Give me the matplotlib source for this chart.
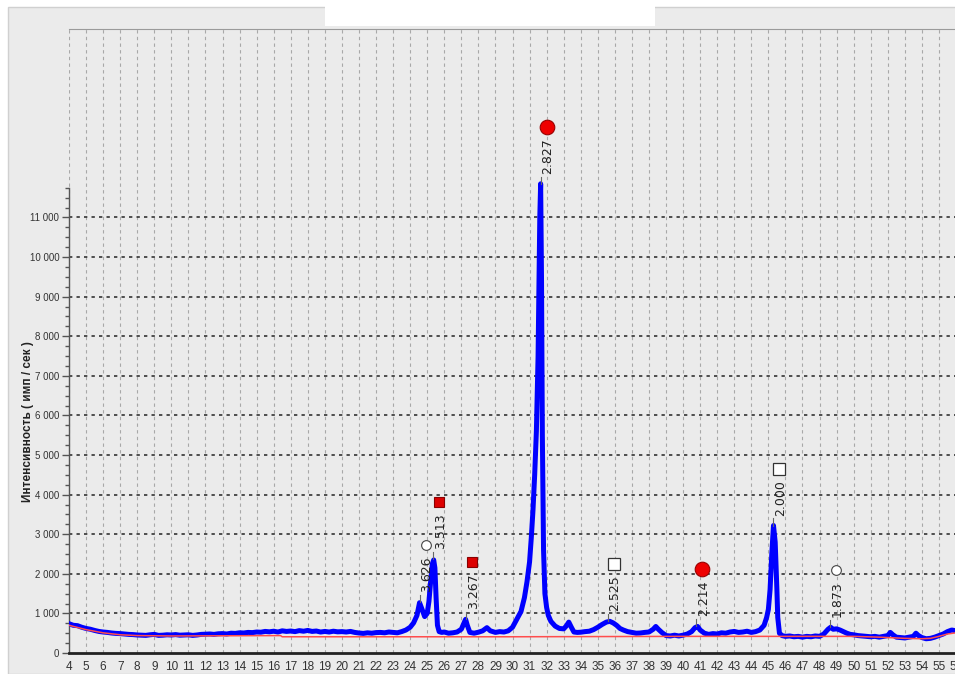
import numpy as np
import matplotlib
matplotlib.use("Agg")
import matplotlib.pyplot as plt
from matplotlib.patches import Rectangle
from matplotlib.ticker import FixedLocator

# --- diffractogram (2theta, counts/s) ---
two_theta = [
    4.0, 4.25, 4.5, 4.75, 5.0, 5.25, 5.5, 5.75, 6.0, 6.25, 6.5, 6.75, 7.0, 7.25, 7.5, 7.75,
    8.0, 8.25, 8.5, 8.75, 9.0, 9.25, 9.5, 9.75, 10.0, 10.25, 10.5, 10.75, 11.0, 11.25, 11.5, 11.75,
    12.0, 12.25, 12.5, 12.75, 13.0, 13.25, 13.5, 13.75, 14.0, 14.25, 14.5, 14.75, 15.0, 15.25, 15.5, 15.75,
    16.0, 16.25, 16.5, 16.75, 17.0, 17.25, 17.5, 17.75, 18.0, 18.25, 18.5, 18.75, 19.0, 19.25, 19.5, 19.75,
    20.0, 20.25, 20.5, 20.75, 21.0, 21.25, 21.5, 21.75, 22.0, 22.25, 22.5, 22.75, 23.0, 23.25, 23.5, 23.75,
    24.0, 24.2, 24.4, 24.55, 24.7, 24.85, 25.0, 25.1, 25.2, 25.3, 25.38, 25.45, 25.52, 25.6, 25.7, 25.85,
    26.0, 26.25, 26.5, 26.75, 27.0, 27.15, 27.25, 27.35, 27.5, 27.75, 28.0, 28.25, 28.5, 28.7, 29.0, 29.25,
    29.5, 29.75, 30.0, 30.25, 30.5, 30.7, 30.85, 31.0, 31.1, 31.2, 31.3, 31.4, 31.5, 31.6, 31.65, 31.7,
    31.75, 31.82, 31.9, 32.0, 32.1, 32.25, 32.5, 32.75, 33.0, 33.15, 33.3, 33.45, 33.6, 33.8, 34.0, 34.25,
    34.5, 34.75, 35.0, 35.25, 35.5, 35.7, 35.9, 36.1, 36.3, 36.5, 36.75, 37.0, 37.25, 37.5, 37.75, 38.0,
    38.25, 38.4, 38.55, 38.75, 39.0, 39.25, 39.5, 39.75, 40.0, 40.25, 40.5, 40.7, 40.85, 41.0, 41.25, 41.5,
    41.75, 42.0, 42.25, 42.5, 42.75, 43.0, 43.25, 43.5, 43.75, 44.0, 44.25, 44.5, 44.75, 44.9, 45.0, 45.1,
    45.2, 45.3, 45.4, 45.5, 45.55, 45.65, 45.8, 46.0, 46.25, 46.5, 46.75, 47.0, 47.25, 47.5, 47.75, 48.0,
    48.25, 48.5, 48.65, 48.8, 49.0, 49.2, 49.4, 49.6, 49.8, 50.0, 50.25, 50.5, 50.75, 51.0, 51.25, 51.5,
    51.75, 52.0, 52.15, 52.3, 52.5, 52.75, 53.0, 53.25, 53.5, 53.65, 53.8, 54.0, 54.25, 54.5, 54.75, 55.0,
    55.25, 55.5, 55.75, 56.0,
]
intensity = [
    740, 700, 690, 650, 620, 600, 570, 545, 530, 520, 505, 495, 490, 480, 470, 465,
    455, 450, 445, 460, 470, 445, 450, 460, 455, 465, 450, 455, 460, 445, 455, 470,
    475, 480, 470, 485, 490, 480, 500, 495, 510, 505, 520, 515, 530, 525, 545, 535,
    550, 530, 560, 545, 555, 540, 565, 550, 570, 545, 555, 530, 545, 530, 550, 535,
    540, 530, 545, 520, 505, 495, 510, 500, 515, 520, 510, 530, 520, 510, 540, 580,
    650, 760, 950, 1270, 1100, 920, 1000, 1300, 1800, 2250, 2350, 2150, 1400, 700, 540, 520,
    530, 500, 510, 530, 600, 750, 850, 700, 520, 500, 525, 560, 640, 560, 520, 540,
    530, 560, 650, 850, 1050, 1400, 1800, 2300, 2900, 3600, 4500, 5600, 7500, 11000, 11850, 9500,
    5500, 2600, 1500, 1150, 950, 800, 680, 620, 610, 680, 780, 650, 530, 520, 525, 540,
    550, 590, 650, 720, 780, 800, 760, 700, 620, 580, 540, 520, 500, 505, 520, 530,
    600, 670, 600, 520, 440, 430, 450, 430, 450, 480, 540, 640, 670, 580, 500, 470,
    490, 480, 510, 500, 530, 545, 520, 530, 550, 520, 540, 580, 700, 900, 1100, 1600,
    2500, 3220, 2800, 1600, 900, 500, 440, 420, 430, 410, 420, 400, 420, 410, 430, 420,
    480, 600, 650, 600, 610, 580, 540, 500, 470, 460, 440, 430, 420, 410, 420, 400,
    420, 440, 520, 460, 400, 390, 380, 400, 420, 500, 440, 390, 360, 370, 400, 440,
    480, 540, 580, 560,
]

# background line
bg_theta = [4.0, 5.0, 6.0, 7.0, 8.0, 10.0, 16.4, 16.5, 30.0, 40.0, 50.0, 51.5, 53.0, 54.0, 54.5, 55.0, 55.5, 56.0]
bg_counts = [700, 590, 510, 460, 440, 430, 440, 410, 410, 420, 420, 400, 370, 360, 370, 420, 480, 510]

# identified peaks: position, height, d-spacing, phase marker
peak_theta = [24.55, 25.36, 27.28, 31.65, 35.6, 40.78, 45.3, 48.62]
peak_top = [1280, 2380, 860, 11850, 800, 680, 3220, 650]
peak_d = ["3.626", "3.513", "3.267", "2.827", "2.525", "2.214", "2.000", "1.873"]
peak_phase = ["open_circle", "red_square", "red_square", "red_circle",
              "open_square", "red_circle", "open_square", "open_circle"]

x_ticks = list(range(4, 57))
y_ticks = list(range(0, 12000, 1000))

phase_style = {
    "red_circle": dict(marker="o", ms=10.5, mfc="#ee0000", mec="#990000", mew=0.8),
    "red_square": dict(marker="s", ms=7, mfc="#dd0000", mec="#880000", mew=0.8),
    "open_square": dict(marker="s", ms=8.5, mfc="white", mec="#333333", mew=0.9),
    "open_circle": dict(marker="o", ms=7, mfc="white", mec="#444444", mew=0.8),
}

BG = "#ebebeb"
fig = plt.figure(figsize=(9.55, 6.74), dpi=100, facecolor="white")
# grey panel and the blank white title box
fig.patches.append(Rectangle((8 / 955, 0), 1, 1 - 7 / 674, transform=fig.transFigure,
                             facecolor=BG, edgecolor="#d0d0d0", lw=1.0, zorder=-2))
fig.patches.append(Rectangle((325 / 955, 1 - 26 / 674), 330 / 955, 21 / 674,
                             transform=fig.transFigure, facecolor="white",
                             edgecolor="none", zorder=-1))

ax = fig.add_axes([69 / 955, 21 / 674, 887 / 955, 624 / 674])
ax.set_facecolor(BG)
ax.set_xlim(4, 56)
ax.set_ylim(0, 15760)

# grid: light dashed verticals at every degree, dark dotted horizontals to 11 000
for xv in x_ticks:
    ax.axvline(xv, color="#a8a8a8", lw=0.8, ls=(0, (3, 3)), zorder=0)
for yv in y_ticks[1:]:
    ax.axhline(yv, color="#333333", lw=1.2, ls=(0, (2, 2.5)), zorder=0)

ax.plot(two_theta, intensity, color="#0000ff", lw=3.6, solid_joinstyle="round", zorder=3)
ax.plot(bg_theta, bg_counts, color="#ff4d4d", lw=1.1, zorder=4)

for th, top, d, ph in zip(peak_theta, peak_top, peak_d, peak_phase):
    ax.plot([th, th], [top, top + 180], color="#666666", lw=0.8, zorder=4)
    ax.annotate(d, (th, top), xytext=(7, 10), textcoords="offset pixels",
                rotation=90, ha="center", va="bottom", fontsize=9,
                color="#222222", zorder=6)
    ax.plot([th], [top], ls="none", zorder=6,
            transform=ax.transData + matplotlib.transforms.ScaledTranslation(
                6 / 100, 57 / 100, fig.dpi_scale_trans),
            **phase_style[ph])

# axes / ticks
ax.spines["right"].set_visible(False)
ax.spines["top"].set_color("#9a9a9a")
ax.spines["top"].set_linewidth(0.8)
ax.spines["left"].set_color("#555555")
ax.spines["left"].set_linewidth(1.0)
ax.spines["left"].set_bounds(0, 11750)
ax.spines["bottom"].set_color("#222222")
ax.spines["bottom"].set_linewidth(2.0)

ax.set_xticks(x_ticks)
ax.set_xticklabels([str(v) for v in x_ticks], color="#333333",
                   family="Liberation Sans", size=8.5)
ax.tick_params(axis="x", length=0, pad=6)
ax.set_yticks(y_ticks)
ax.set_yticklabels([f"{v:,}".replace(",", " ") for v in y_ticks], color="#333333",
                   family="Liberation Sans", size=7)
ax.yaxis.set_minor_locator(FixedLocator([v for v in range(250, 12000, 250) if v % 1000]))
ax.tick_params(axis="y", which="major", length=5, width=1, color="#555555", pad=2)
ax.tick_params(axis="y", which="minor", length=3, width=1, color="#555555")

ax.text(28 / 955, 5850, "Интенсивность ( имп / сек )",
        transform=matplotlib.transforms.blended_transform_factory(fig.transFigure, ax.transData),
        rotation=90, ha="center", va="center", fontsize=8.5, fontweight="bold",
        family="Liberation Sans", color="#222222")

fig.savefig("out.png", dpi=100, facecolor=fig.get_facecolor())
